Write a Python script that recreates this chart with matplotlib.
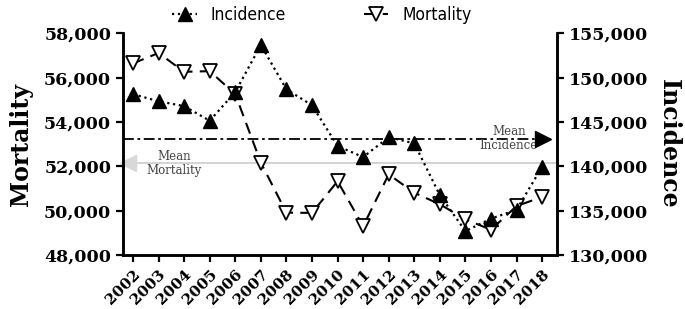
import numpy as np
import matplotlib
matplotlib.use("Agg")
import matplotlib.pyplot as plt
from matplotlib.ticker import FuncFormatter, MultipleLocator

years = list(range(2002, 2019))
incidence = [148150, 147350, 146800, 145150, 148400, 153700, 148700, 146900,
             142300, 141050, 143300, 142600, 136750, 132700, 134100, 135100, 139950]
mortality = [56650, 57120, 56270, 56300, 55260, 52170, 49910, 49900,
             51330, 49300, 51640, 50810, 50290, 49610, 49140, 50210, 50620]

serif = ['DejaVu Serif']
fig = plt.figure(figsize=(6.85, 3.09), dpi=100)
ax = fig.add_axes([0.1796, 0.1748, 0.6331, 0.7168])
ax2 = ax.twinx()

ax.set_ylim(48000, 58000)
ax2.set_ylim(130000, 155000)
ax.set_xlim(2002 - 0.39, 2018 + 0.57)

l2, = ax.plot(years, mortality, linestyle=(0, (5.5, 3.5)), color='black', lw=1.5,
              marker='v', markersize=10.5, markerfacecolor='white',
              markeredgecolor='black', markeredgewidth=1.3, zorder=3)
l1, = ax2.plot(years, incidence, linestyle=':', color='black', lw=1.6,
               marker='^', markersize=9.5, markerfacecolor='black',
               markeredgecolor='black', zorder=4)

# mean lines
mean_mort = np.mean(mortality)
mean_inc = np.mean(incidence)
ax.plot([2002 - 0.39, 2018 + 0.57], [mean_mort, mean_mort], color='#d0d0d0', lw=1.3, zorder=1)
ax.plot([2002 - 0.2], [mean_mort], marker='<', color='#d8d8d8', markersize=11, zorder=1, clip_on=False)
ax2.plot([2002 - 0.39, 2018], [mean_inc, mean_inc], color='black', lw=1.3,
         linestyle=(0, (6, 2, 1.5, 2)), zorder=2)
ax2.plot([2018.05], [mean_inc], marker='>', color='black', markersize=12, zorder=5, clip_on=False)

ax.text(2003.6, mean_mort, 'Mean\nMortality', ha='center', va='center', fontsize=8.5,
        color='#444444', family=serif, linespacing=1.1)
ax2.text(2016.7, mean_inc, 'Mean\nIncidence', ha='center', va='center', fontsize=8.5,
         color='#444444', family=serif, linespacing=1.1)

fmt = FuncFormatter(lambda v, p: f'{int(v):,}')
ax.yaxis.set_major_locator(MultipleLocator(2000))
ax2.yaxis.set_major_locator(MultipleLocator(5000))
ax.yaxis.set_major_formatter(fmt)
ax2.yaxis.set_major_formatter(fmt)
ax.set_xticks(years)
ax.set_xticklabels([str(y) for y in years], rotation=45, ha='right', rotation_mode='anchor',
                   fontsize=11, fontweight='bold', family=serif)
for lab in ax.get_yticklabels() + ax2.get_yticklabels():
    lab.set_fontsize(12.5)
    lab.set_fontweight('bold')
    lab.set_family(serif)

for a in (ax, ax2):
    a.spines['top'].set_visible(False)
    for s in ('left', 'right', 'bottom'):
        a.spines[s].set_linewidth(1.8)
    a.tick_params(width=1.6, length=5, direction='out')
ax.tick_params(axis='x', pad=4)

ax.set_ylabel('Mortality', fontsize=17, fontweight='bold', family=serif, labelpad=8)
ax2.set_ylabel('Incidence', fontsize=17, fontweight='bold', family=serif, rotation=270, labelpad=24)

leg = fig.legend([l1, l2], ['Incidence', 'Mortality'], loc='upper center',
                 bbox_to_anchor=(0.47, 1.03), ncol=2, frameon=False, handlelength=1.4,
                 columnspacing=4.5, prop={'family': ['DejaVu Sans'], 'size': 12.5, 'stretch': 'condensed'})

fig.savefig('out.png', dpi=100)
